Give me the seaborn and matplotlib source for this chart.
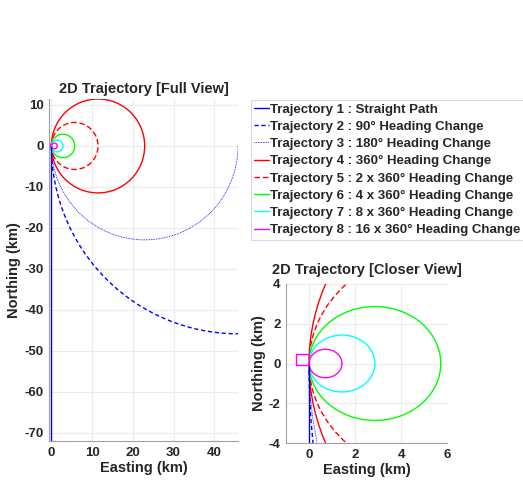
import numpy as np
import pandas as pd
import seaborn as sns
import matplotlib.pyplot as plt
from matplotlib.patches import Arc
from matplotlib.lines import Line2D

# every trajectory has the same path length, only the total heading change differs
path_length_km = 72.0
traj_labels = ['Trajectory 1 : Straight Path',
               'Trajectory 2 : 90° Heading Change',
               'Trajectory 3 : 180° Heading Change',
               'Trajectory 4 : 360° Heading Change',
               'Trajectory 5 : 2 x 360° Heading Change',
               'Trajectory 6 : 4 x 360° Heading Change',
               'Trajectory 7 : 8 x 360° Heading Change',
               'Trajectory 8 : 16 x 360° Heading Change']
heading_change_deg = [0, 90, 180, 360, 720, 1440, 2880, 5760]
colors = ['#0000ff', '#0000ff', '#0000ff', '#ff0000', '#ff0000', '#00ff00', '#00ffff', '#ff00ff']
styles = ['-', (0, (3, 2)), (0, (1, 1)), '-', (0, (4, 2)), '-', '-', '-']
widths = [1.0, 1.0, 0.6, 1.0, 1.0, 1.0, 1.0, 1.0]

# little box drawn with trajectory 8 just west of the start point
square_x = [-0.58, -0.58, 0.0, 0.0, -0.58]
square_y = [-0.1, 0.47, 0.47, -0.1, -0.1]

full_xticks = [0, 10, 20, 30, 40]
full_yticks = [-70, -60, -50, -40, -30, -20, -10, 0, 10]
close_xticks = [0, 2, 4, 6]
close_yticks = [-4, -2, 0, 2, 4]

sns.set_style('whitegrid')
plt.rcParams['font.family'] = ['Liberation Sans', 'DejaVu Sans']
plt.rcParams['font.weight'] = 'bold'
plt.rcParams['axes.unicode_minus'] = False

fig = plt.figure(figsize=(5.23, 4.84), dpi=100)
W, H = 523, 484
ax1 = fig.add_axes([49 / W, 1 - 441 / H, (238 - 49) / W, (441 - 99) / H])
ax2 = fig.add_axes([286 / W, 1 - 443 / H, (447 - 286) / W, (443 - 284) / H])


def draw(ax, xt, yt):
    for deg, c, ls, lw in zip(heading_change_deg, colors, styles, widths):
        if deg == 0:
            sns.lineplot(x=[0, 0], y=[0, -path_length_km], sort=False, estimator=None,
                         color=c, linestyle=ls, linewidth=lw, ax=ax)
            continue
        r = path_length_km / np.deg2rad(deg)
        ax.add_patch(Arc((r, 0), 2 * r, 2 * r, theta1=180, theta2=180 + min(deg, 360),
                         color=c, linestyle=ls, linewidth=lw))
    sns.lineplot(x=square_x, y=square_y, sort=False, estimator=None,
                 color=colors[7], linewidth=1.0, ax=ax)
    ax.grid(True, color='#ebebeb', linewidth=0.8)
    for s in ['top', 'right']:
        ax.spines[s].set_visible(False)
    for s in ['left', 'bottom']:
        ax.spines[s].set_color('#a0a0a0')
        ax.spines[s].set_linewidth(0.8)
    ax.set_xticks(xt, labels=[str(v) for v in xt], fontweight='bold')
    ax.set_yticks(yt, labels=[str(v) for v in yt], fontweight='bold')
    ax.tick_params(direction='in', length=3, width=0.6, color='#a0a0a0',
                   labelsize=9.5, labelcolor='#262626', pad=4)
    ax.set_xlabel('Easting (km)', fontsize=10.5, fontweight='bold', color='#262626', labelpad=2)
    ax.set_ylabel('Northing (km)', fontsize=10.5, fontweight='bold', color='#262626', labelpad=2)


draw(ax1, full_xticks, full_yticks)
ax1.set_xlim(-0.58, 45.84)
ax1.set_ylim(-72, 11.46)
ax1.set_title('2D Trajectory [Full View]', fontsize=10.5, fontweight='bold', pad=4)

draw(ax2, close_xticks, close_yticks)
ax2.set_xlim(-1, 6)
ax2.set_ylim(-4, 4)
ax2.set_title('2D Trajectory [Closer View]', fontsize=10.5, fontweight='bold', pad=7)

handles = [Line2D([], [], color=c, linestyle=ls, linewidth=lw)
           for c, ls, lw in zip(colors, styles, widths)]
leg = fig.legend(handles, traj_labels, loc='upper left',
                 bbox_to_anchor=(251 / W, 1 - 100 / H), borderaxespad=0,
                 prop={'weight': 'bold', 'size': 9.5}, handlelength=1.1,
                 handletextpad=0.1, labelspacing=0.38, borderpad=0.25,
                 frameon=True, fancybox=False)
leg.get_frame().set_edgecolor('#d0d0d0')
leg.get_frame().set_linewidth(0.8)

fig.savefig('out.png', dpi=100)
